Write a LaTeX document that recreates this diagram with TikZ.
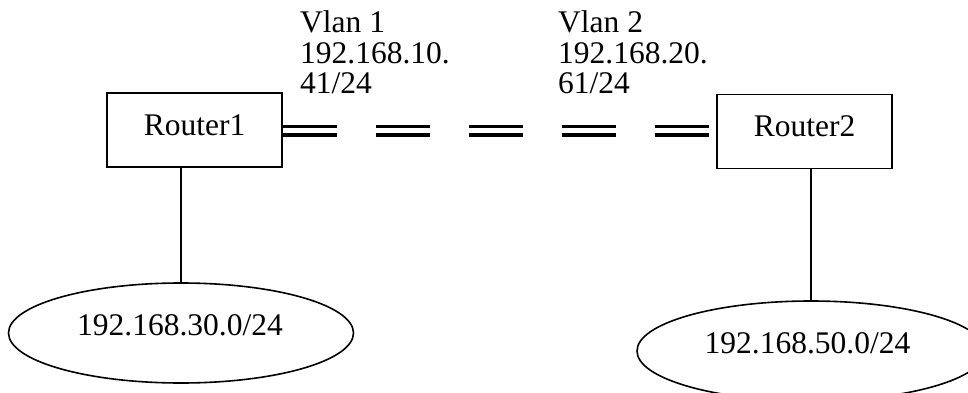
\documentclass[tikz,border=0pt]{standalone}
\usepackage{fontspec}
\setmainfont{Liberation Serif}
\usetikzlibrary{shapes.geometric,calc}

\tikzset{
  every node/.style={font=\fontsize{31.5}{30.5}\selectfont, inner sep=0pt},
  router/.style={draw, line width=1.6pt, rectangle, minimum width=175pt, minimum height=74pt,
                 text height=21pt, text depth=10.5pt},
  subnet/.style={draw, line width=1.6pt, ellipse},
  wire/.style={line width=1.8pt},
  trunk/.style={line width=3.5pt, double, double distance=5pt, dash pattern=on 54pt off 39pt},
  vlanlabel/.style={align=left, anchor=base west}
}

\begin{document}
\begin{tikzpicture}[x=1pt, y=-1pt]
  \useasboundingbox (0,0) rectangle (968,393);
  \clip (0,0) rectangle (968,393);

  % routers
  \node[router] (r1) at (194.5,130) {Router1};
  \node[router] (r2) at (804.5,131.5) {Router2};

  % attached networks
  \node[subnet, minimum width=345pt, minimum height=100pt] (net1) at (181,333) {};
  \node[anchor=base] (net1txt) at (180,335) {192.168.30.0/24};
  \node[subnet, minimum width=348pt, minimum height=100pt] (net2) at (811,351) {};
  \node[anchor=base] (net2txt) at (807.5,353) {192.168.50.0/24};

  % VLAN addresses (anchored on the baseline of the last line)
  \node[vlanlabel] (v1) at (300,94) {Vlan 1\\192.168.10.\\41/24};
  \node[vlanlabel] (v2) at (558,94) {Vlan 2\\192.168.20.\\61/24};

  % links
  \draw[trunk] (r1.east) ++(0,0.5) coordinate (t1) -- (t1 -| r2.west);
  \draw[wire] (net1.north) -- (net1.north |- r1.south);
  \draw[wire] (net2.north) -- (net2.north |- r2.south);
\end{tikzpicture}
\end{document}
